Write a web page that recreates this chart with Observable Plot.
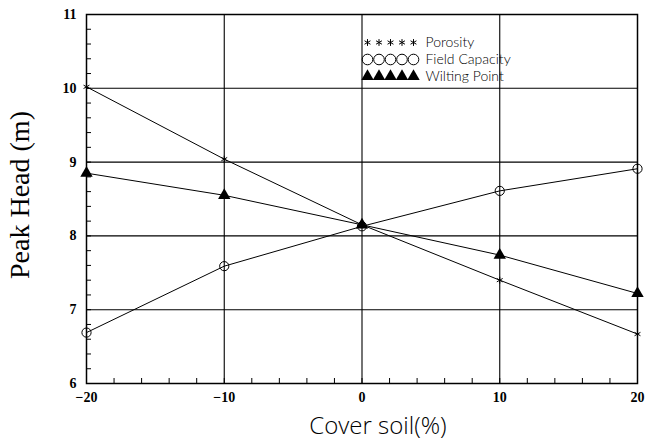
<!DOCTYPE html>
<html>
<head>
<meta charset="utf-8">
<script src="https://cdn.jsdelivr.net/npm/d3@7"></script>
<script src="https://cdn.jsdelivr.net/npm/@observablehq/plot@0.6"></script>
<style>
  html, body { margin: 0; padding: 0; background: #fff; }
  #chart { width: 645px; height: 443px; }
</style>
</head>
<body>
<div id="chart"></div>
<script>
// ---- data ----
const coverSoil = [-20, -10, 0, 10, 20];
const porosity = [10.02, 9.04, 8.15, 7.40, 6.67];
const fieldCapacity = [6.69, 7.59, 8.13, 8.61, 8.91];
const wiltingPoint = [8.85, 8.55, 8.15, 7.74, 7.22];
const seriesNames = ["Porosity", "Field Capacity", "Wilting Point"];
const yTicks = [6, 7, 8, 9, 10, 11];
const xTicks = [-20, -10, 0, 10, 20];
const yGrid = [7, 8, 9, 10];
const xGrid = [-10, 0, 10];
const yMinor = d3.range(6, 11.001, 0.2).map(v => +v.toFixed(1));
const xMinor = d3.range(-20, 20.001, 2);
const yLabel = "Peak Head (m)";
const xLabel = "Cover soil(%)";

const seriesValues = [porosity, fieldCapacity, wiltingPoint];
const rows = seriesNames.flatMap((s, i) =>
  coverSoil.map((x, j) => ({series: s, x, y: seriesValues[i][j]})));

const W = 645, H = 443, ML = 86, MR = 8, MT = 14, MB = 60;
const plotW = W - ML - MR, plotH = H - MT - MB;
const xDomain = [-20, 20], yDomain = [6, 11];
const tickLen = 5;
// tick length converted to data units via the linear scales
const xTickUnits = (xDomain[1] - xDomain[0]) * tickLen / plotW;
const yTickUnits = (yDomain[1] - yDomain[0]) * tickLen / plotH;

const symbolStyle = {
  "Porosity": {symbol: "asterisk", r: 3.2, stroke: "black", fill: "none", strokeWidth: 1},
  "Field Capacity": {symbol: "circle", r: 4.6, stroke: "black", fill: "none", strokeWidth: 1},
  "Wilting Point": {symbol: "triangle", r: 4.6, fill: "black", stroke: "none"}
};

const tickFont = {fontFamily: "Liberation Serif, serif", fontWeight: "bold", fontSize: 14};
const legendFont = "Lato, 'Open Sans', sans-serif";
const axisLabelFont = "'Open Sans', 'DejaVu Sans', sans-serif";
const legendRowGap = 17;

// legend symbol marks (5 repeated symbols per row)
const legendMarks = seriesNames.flatMap((s, i) => {
  const st = symbolStyle[s];
  const dots = d3.range(5).map(k => Plot.dot([s], {
    frameAnchor: "top-left",
    dx: 281 + k * 11.5,
    dy: 28 + i * legendRowGap,
    ...st,
    r: s === "Field Capacity" ? 5.3 : st.r
  }));
  return [
    ...dots,
    Plot.text([s], {
      frameAnchor: "top-left", dx: 339, dy: 28 + i * legendRowGap,
      text: d => d, textAnchor: "start", lineAnchor: "middle",
      fontFamily: legendFont, fontWeight: 300, fontSize: 14, fill: "black",
      style: "letter-spacing:1.8px"
    })
  ];
});

const chart = Plot.plot({
  width: W,
  height: H,
  marginLeft: ML,
  marginRight: MR,
  marginTop: MT,
  marginBottom: MB,
  style: {background: "white", color: "black", overflow: "visible"},
  x: {domain: xDomain},
  y: {domain: yDomain},
  marks: [
    Plot.ruleY(yGrid, {stroke: "black", strokeWidth: 1.1}),
    Plot.ruleX(xGrid, {stroke: "black", strokeWidth: 1.1}),
    // inward minor ticks
    Plot.ruleY(yMinor, {y: d => d, x1: xDomain[0], x2: xDomain[0] + xTickUnits, stroke: "black", strokeWidth: 1}),
    Plot.ruleX(xMinor, {x: d => d, y1: yDomain[0], y2: yDomain[0] + yTickUnits, stroke: "black", strokeWidth: 1}),
    Plot.axisY(yTicks, {tickSize: 0, tickPadding: 10, label: null, tickFormat: d3.format("d"), ...tickFont}),
    Plot.axisX(xTicks, {tickSize: 0, tickPadding: 9, label: null, ...tickFont}),
    Plot.frame({stroke: "black", strokeWidth: 1.5}),
    Plot.line(rows, {x: "x", y: "y", z: "series", stroke: "black", strokeWidth: 1}),
    ...seriesNames.map(s => Plot.dot(rows.filter(d => d.series === s), {x: "x", y: "y", ...symbolStyle[s]})),
    ...legendMarks,
    Plot.text([yLabel], {
      frameAnchor: "left", dx: -66, dy: -4, rotate: -90,
      text: d => d, textAnchor: "middle", lineAnchor: "middle",
      fontFamily: "Liberation Serif, serif", fontSize: 28, fill: "black",
      style: "letter-spacing:2.2px; word-spacing:8px"
    }),
    Plot.text([xLabel], {
      frameAnchor: "bottom", dx: 16, dy: 43,
      text: d => d, textAnchor: "middle", lineAnchor: "middle",
      fontFamily: axisLabelFont, fontWeight: 300, fontSize: 24, fill: "black",
      style: "letter-spacing:2px; word-spacing:6px"
    })
  ]
});

document.getElementById("chart").appendChild(chart);
</script>
</body>
</html>
